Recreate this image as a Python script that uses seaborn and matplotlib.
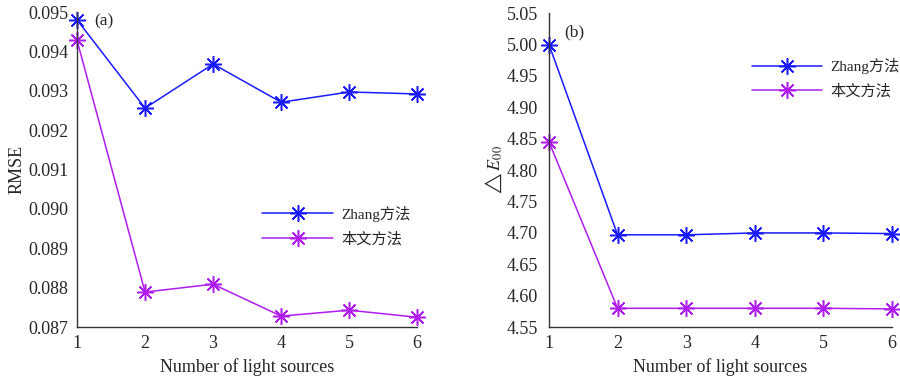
import pandas as pd
import matplotlib
matplotlib.use('Agg')
import matplotlib.pyplot as plt
import seaborn as sns

# data
n_sources = [1, 2, 3, 4, 5, 6]
rmse_zhang = [0.09480, 0.09256, 0.09368, 0.09271, 0.09297, 0.09292]
rmse_ours = [0.09428, 0.08789, 0.08809, 0.08728, 0.08743, 0.08725]
de_zhang = [5.000, 4.697, 4.697, 4.700, 4.700, 4.699]
de_ours = [4.845, 4.580, 4.580, 4.580, 4.580, 4.579]
labels = ['Zhang方法', '本文方法']
rmse_ticks = [0.087, 0.088, 0.089, 0.090, 0.091, 0.092, 0.093, 0.094, 0.095]
de_ticks = [4.55, 4.60, 4.65, 4.70, 4.75, 4.80, 4.85, 4.90, 4.95, 5.00, 5.05]

sns.set_style('white')
plt.rcParams['font.family'] = ['Liberation Serif', 'Noto Sans CJK SC']
plt.rcParams['mathtext.fontset'] = 'stix'

colors = {'Zhang方法': '#1a1aff', '本文方法': '#b01cf0'}

df_rmse = pd.DataFrame({
    'n': n_sources * 2,
    'value': rmse_zhang + rmse_ours,
    'method': [labels[0]] * 6 + [labels[1]] * 6,
})
df_de = pd.DataFrame({
    'n': n_sources * 2,
    'value': de_zhang + de_ours,
    'method': [labels[0]] * 6 + [labels[1]] * 6,
})

fig = plt.figure(figsize=(9, 3.76), dpi=100)
ax1 = fig.add_axes([0.0856, 0.130, 0.378, 0.838])
ax2 = fig.add_axes([0.610, 0.130, 0.381, 0.835])


def draw(ax, df, ticks, ylabel, tag, tagpos, legpos, ypad):
    sns.lineplot(data=df, x='n', y='value', hue='method', palette=colors,
                 marker=(8, 2, 0), markersize=12, markeredgewidth=1.1,
                 linewidth=1.1, ax=ax, clip_on=False, legend=False)
    # asterisk markers are edge-only, so give them the line colour
    for line in ax.lines:
        line.set_markeredgecolor(line.get_color())
    ax.set_xlim(1, 6)
    ax.set_ylim(ticks[0], ticks[-1])
    ax.set_xticks(n_sources)
    ax.set_yticks(ticks)
    if ticks[0] < 1:
        ax.set_yticklabels([f'{t:.3f}' for t in ticks])
    else:
        ax.set_yticklabels([f'{t:.2f}' for t in ticks])
    ax.set_xlabel('Number of light sources', fontsize=13, labelpad=4)
    ax.set_ylabel(ylabel, fontsize=13, labelpad=2)
    for s in ['top', 'right']:
        ax.spines[s].set_visible(False)
    for s in ['left', 'bottom']:
        ax.spines[s].set_color('#333333')
        ax.spines[s].set_linewidth(1.0)
    ax.tick_params(axis='y', direction='in', length=3, labelsize=13,
                   color='#333333', pad=ypad)
    ax.tick_params(axis='x', direction='out', length=3, labelsize=13,
                   color='#333333', pad=3)
    ax.text(tagpos[0], tagpos[1], tag, transform=ax.transAxes, fontsize=12.5,
            va='center', ha='left')
    ax.legend(ax.lines[:2], labels, loc='upper left', bbox_to_anchor=legpos,
              frameon=False, fontsize=11, handlelength=4.6,
              handletextpad=0.55, labelspacing=0.65, borderpad=0,
              borderaxespad=0)


draw(ax1, df_rmse, rmse_ticks, 'RMSE', '(a)', (0.05, 0.97), (0.545, 0.385), 6)
draw(ax2, df_de, de_ticks, r'$\triangle E_{00}$', '(b)', (0.045, 0.94),
     (0.592, 0.857), 8)

fig.savefig('out.png', dpi=100)
